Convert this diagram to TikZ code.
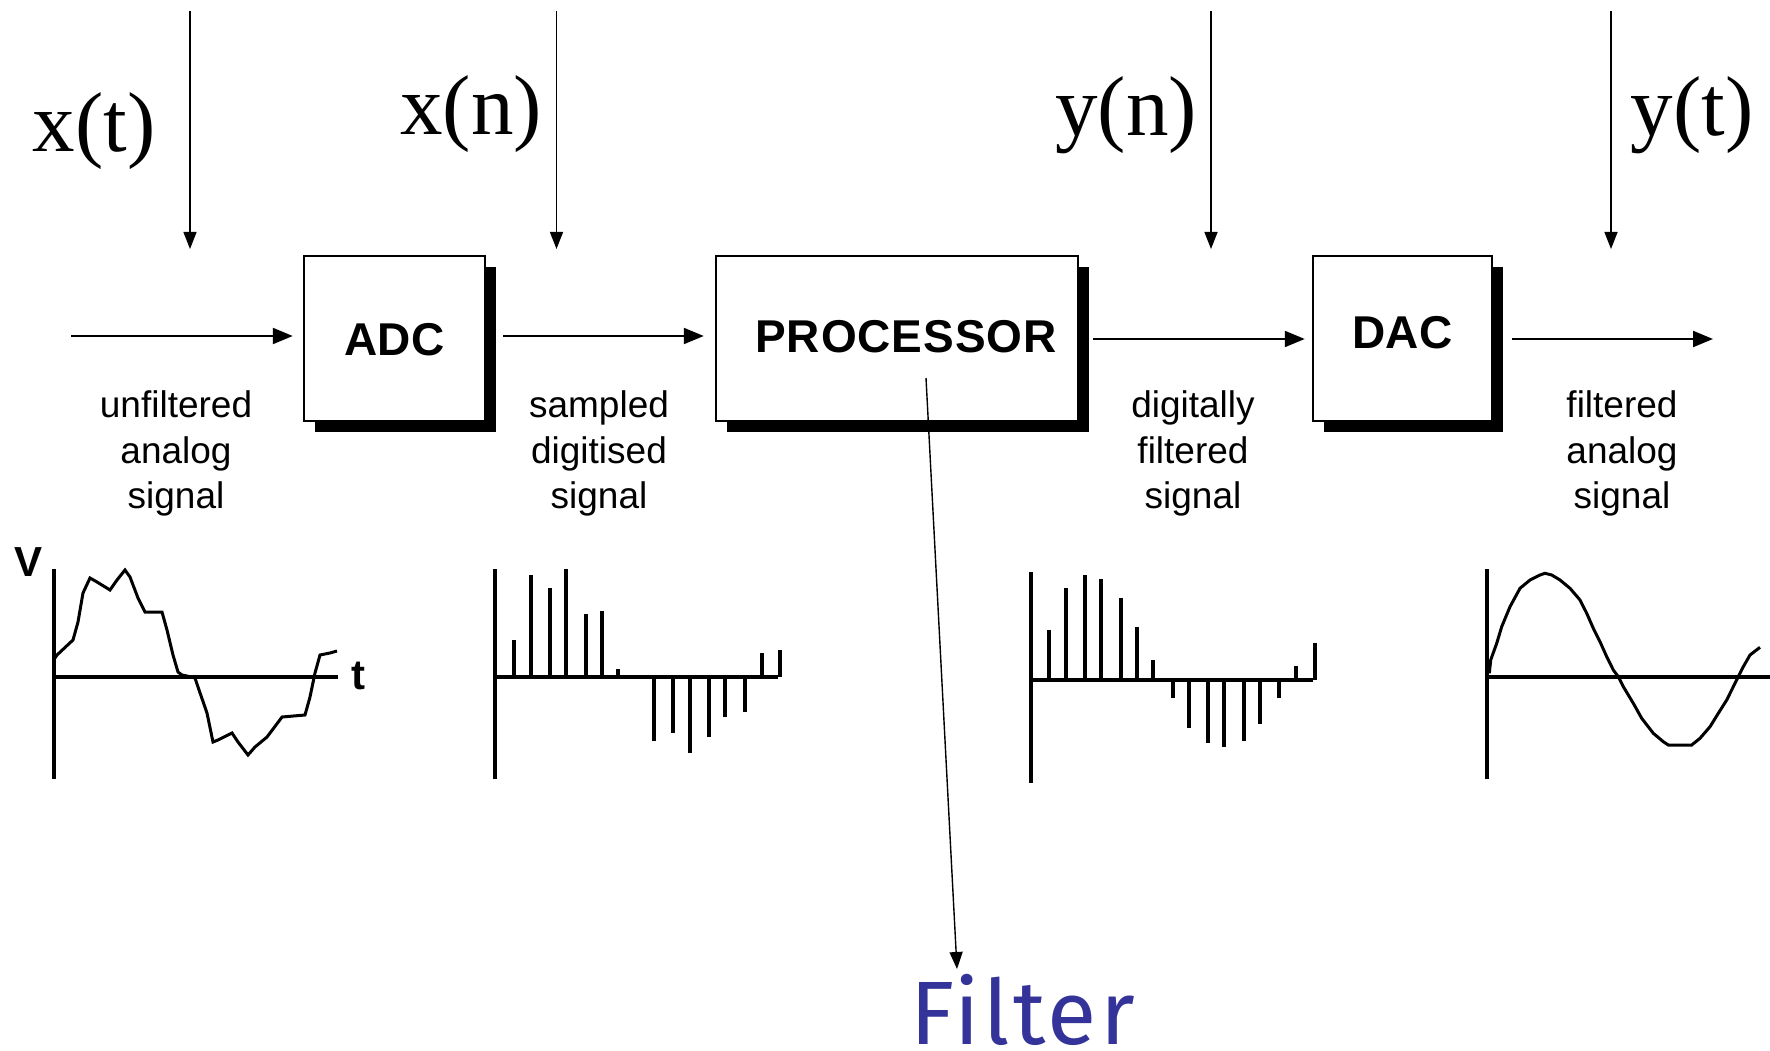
\documentclass[tikz,border=0pt]{standalone}
\usepackage{fontspec}
\setmainfont{Liberation Serif}
\newfontfamily\capfont{Liberation Sans}
\newfontfamily\boxfont{Liberation Sans}
\newfontfamily\handfont[LetterSpace=3.8]{Fira Sans}
\usetikzlibrary{arrows.meta,shadows,calc}
\definecolor{filterblue}{RGB}{51,51,153}

\begin{document}
\begin{tikzpicture}[x=1pt,y=-1pt,
  blockbox/.style={draw,line width=2.5pt,fill=white,minimum height=165pt,inner sep=0pt,
    text height=33pt,text depth=0pt,
    font=\boxfont\bfseries\fontsize{46}{46}\selectfont,
    drop shadow={shadow xshift=11pt,shadow yshift=-11pt,fill=black,opacity=1}},
  sigtitle/.style={anchor=base,inner sep=0pt,font=\fontsize{85}{85}\selectfont},
  captext/.style={anchor=base,inner sep=0pt,font=\capfont\fontsize{37}{37}\selectfont},
  axislbl/.style={inner sep=0pt,font=\boxfont\bfseries\fontsize{42}{42}\selectfont},
  flowarrow/.style={line width=2.2pt,-{Triangle[length=20pt,width=16pt]}},
  tapearrow/.style={line width=1.4pt,-{Triangle[length=17pt,width=13pt]}},
  axisline/.style={line width=3.1pt},
  wave/.style={line width=3pt,line join=miter},
  stem/.style={line width=3.1pt},
  thickstem/.style={line width=4.2pt}]

\useasboundingbox (0,0) rectangle (1770,1051);

% processing blocks
\node[blockbox,minimum width=181pt] (adc)  at (394.5,338.5) {ADC};
\node[blockbox,minimum width=362pt] (proc) at (897,338.5)
  {\hspace*{18pt}\addfontfeature{LetterSpace=2}\raisebox{3pt}{PROCESSOR}};
\node[blockbox,minimum width=179pt] (dac)  at (1402.5,338.5) {\raisebox{6.5pt}{DAC}};

% signal flow arrows
\coordinate (src) at (71,336);
\coordinate (sink) at (1713,339);
\draw[flowarrow,shorten >=10pt] (src) -- (src -| adc.west);
\draw[flowarrow,shorten <=17pt,shorten >=11pt] ([yshift=2.5pt]adc.east) -- ([yshift=2.5pt]proc.west);
\draw[flowarrow,shorten <=14pt,shorten >=7pt] ([yshift=-0.5pt]proc.east) -- ([yshift=-0.5pt]dac.west);
\draw[flowarrow,shorten <=19pt] ([yshift=-0.5pt]dac.east) -- (sink);

% signal names with their tap arrows
\node[sigtitle] (xt) at (94,152) {x(t)};
\node[sigtitle] (xn) at (471,135) {x(n)};
\node[sigtitle] (yn) at (1126,136) {y(n)};
\node[sigtitle] (yt) at (1692,136) {y(t)};
\foreach \n/\x in {t1/190,t2/556.5,t3/1211,t4/1611}{
  \coordinate (\n top) at (\x,11);
  \coordinate (\n tip) at (\x,249);
  \draw[tapearrow] (\n top) -- (\n tip);
}

% captions under the flow arrows
\node[captext] (c1a) at (176,417) {unfiltered};
\node[captext] (c1b) at (176,463) {analog};
\node[captext] (c1c) at (176,508) {signal};
\node[captext] (c2a) at (599,417) {sampled};
\node[captext] (c2b) at (599,463) {digitised};
\node[captext] (c2c) at (599,508) {signal};
\node[captext] (c3a) at (1193,417) {digitally};
\node[captext] (c3b) at (1193,463) {filtered};
\node[captext] (c3c) at (1193,508) {signal};
\node[captext] (c4a) at (1622,417) {filtered};
\node[captext] (c4b) at (1622,463) {analog};
\node[captext] (c4c) at (1622,508) {signal};

% filter callout
\node[anchor=base west,inner sep=0pt,text=filterblue,text depth=0pt,
      font=\handfont\fontsize{90}{90}\selectfont] (filt) at (910,1044) {Filter};
\coordinate (ptap) at (926,378);
\coordinate (ftip) at (957,969);
\draw[tapearrow] (ptap) -- (ftip);

% plot 1: unfiltered analog signal
\node[axislbl] (vlbl) at (29,562) {V};
\node[axislbl] (tlbl) at (358,676) {t};
\draw[axisline] (54,569) -- (54,779);
\draw[axisline] (54,677) -- (338,677);
\draw[wave] (55,658) -- (57,655) -- (73,640) -- (78,622) -- (83,593) -- (90,578)
  -- (97,582) -- (110,590) -- (117,580) -- (125,570) -- (130,577) -- (138,598)
  -- (145,612) -- (162,612) -- (167,630) -- (173,655) -- (178,672) -- (182,675)
  -- (187,676) -- (195,678) -- (198,687) -- (207,713) -- (213,742) -- (218,740)
  -- (232,733) -- (238,742) -- (248,755) -- (255,747) -- (267,737) -- (282,717)
  -- (305,715) -- (310,697) -- (315,673) -- (320,655) -- (330,653) -- (337,651);

% plot 2: sampled digitised signal
\draw[axisline] (495,569) -- (495,779);
\draw[axisline] (495,677) -- (778,677);
\foreach \x/\y in {514/640,550/588,566/569,586/614,602/611,618/669,
                   654/741,673/733,709/737,725/717,745/712,762/653,780/650}
  \draw[stem] (\x,677) -- (\x,\y);
\foreach \x/\y in {531/575,690/753}
  \draw[thickstem] (\x,677) -- (\x,\y);

% plot 3: digitally filtered signal
\draw[axisline] (1031,572) -- (1031,783);
\draw[axisline] (1031,680) -- (1313,680);
\foreach \x/\y in {1049/630,1085/575,1101/579,1137/627,1153/660,
                   1208/743,1224/747,1244/741,1260/724,1315/643}
  \draw[stem] (\x,680) -- (\x,\y);
\foreach \x/\y in {1066/588,1121/598,1173/698,1189/728,1279/698,1296/666}
  \draw[thickstem] (\x,680) -- (\x,\y);

% plot 4: filtered analog signal
\draw[axisline] (1487,569) -- (1487,779);
\draw[axisline] (1487,677) -- (1770,677);
\draw[wave] plot coordinates {
  (1489.3,673.3) (1490.7,660) (1496.7,643.3) (1501.7,626.7) (1510,606.7)
  (1520,588.3) (1530,580) (1540,575) (1545,573.3) (1551.7,575) (1560,580)
  (1570,588.3) (1580,600) (1586.7,613.3) (1593.3,628.3) (1600,641.7)
  (1606.7,656.7) (1613.3,670) (1618.3,676.7) (1623.3,686.7) (1633.3,703.3)
  (1641.7,718.3) (1653.3,733.3) (1663.3,741.7) (1668.3,745) (1691.7,745)
  (1700,738.3) (1710,726.7) (1718.3,713.3) (1726.7,700) (1733.3,686.7)
  (1738.3,676.7) (1743.3,666.7) (1750,655) (1760,647.3)};
\end{tikzpicture}
\end{document}
